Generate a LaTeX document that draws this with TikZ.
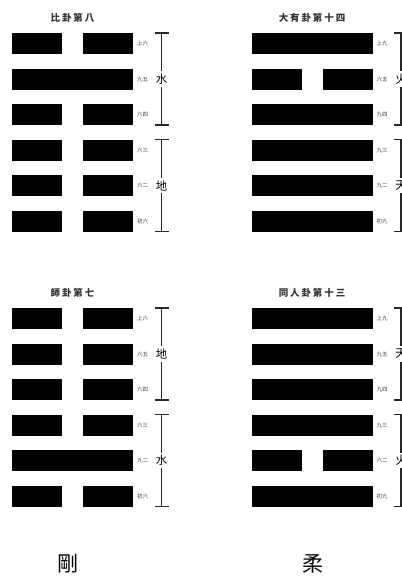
\documentclass[tikz,border=0pt]{standalone}
\usepackage{fontspec}
\newfontfamily\cjk{Noto Sans CJK TC}
\newfontfamily\cjkt[LetterSpace=20]{Noto Sans CJK TC}
\tikzset{
  bar/.style={fill=black},
  titlelab/.style={font=\cjkt\bfseries\fontsize{9.5}{10}\selectfont, inner sep=0pt, text=black!80},
  linelab/.style={font=\cjk\fontsize{5.5}{5.5}\selectfont, inner sep=0pt, text=black!75, anchor=west},
  trilab/.style={font=\cjk\fontsize{11.5}{12}\selectfont, inner sep=2.5pt},
  brk/.style={line width=1.2pt, black!85},
  biglab/.style={font=\cjk\fontsize{21}{22}\selectfont, inner sep=0pt}
}
% #1 name, #2 x0, #3 y0, #4 title, #5 list type/label, #6 upper, #7 lower
\newcommand\myhexagram[7]{%
  \node[titlelab] (#1-title) at (#2+60.5,#3-15) {#4};
  \foreach \t/\l [count=\i from 0] in {#5} {
    \pgfmathsetmacro\yy{#3+\i*35.5}
    \ifnum\t=1
      \fill[bar] (#2,\yy) rectangle ++(121,21);
    \else
      \fill[bar] (#2,\yy) rectangle ++(50,21);
      \fill[bar] (#2+71,\yy) rectangle ++(50,21);
    \fi
    \node[linelab] (#1-l\i) at (#2+125,\yy+10.5) {\l};
  }
  \node[trilab] (#1-up) at (#2+149.5,#3+46) {#6};
  \coordinate (#1-ut) at (#2+149.5,#3);
  \coordinate (#1-ub) at (#2+149.5,#3+92);
  \draw[brk] ([xshift=-7pt]#1-ut) -- ([xshift=7pt]#1-ut);
  \draw[brk] (#1-ut) -- (#1-up.north);
  \draw[brk] (#1-up.south) -- (#1-ub);
  \draw[brk] ([xshift=-7pt]#1-ub) -- ([xshift=7pt]#1-ub);
  \node[trilab] (#1-lo) at (#2+149.5,#3+152.5) {#7};
  \coordinate (#1-lt) at (#2+149.5,#3+106.5);
  \coordinate (#1-lb) at (#2+149.5,#3+198.5);
  \draw[brk] ([xshift=-7pt]#1-lt) -- ([xshift=7pt]#1-lt);
  \draw[brk] (#1-lt) -- (#1-lo.north);
  \draw[brk] (#1-lo.south) -- (#1-lb);
  \draw[brk] ([xshift=-7pt]#1-lb) -- ([xshift=7pt]#1-lb);
}
\begin{document}
\begin{tikzpicture}[x=1pt,y=-1pt]
\useasboundingbox (0,0) rectangle (402,579);
\myhexagram{bi}{12}{33}{比卦第八}{0/上六,1/九五,0/六四,0/六三,0/六二,0/初六}{水}{地}
\myhexagram{dy}{251.5}{33}{大有卦第十四}{1/上九,0/六五,1/九四,1/九三,1/九二,1/初九}{火}{天}
\myhexagram{shi}{12}{308}{師卦第七}{0/上六,0/六五,0/六四,0/六三,1/九二,0/初六}{地}{水}
\myhexagram{tr}{251.5}{308}{同人卦第十三}{1/上九,1/九五,1/九四,1/九三,0/六二,1/初九}{天}{火}
\node[biglab] (gang) at (68,564) {剛};
\node[biglab] (rou) at (313,564) {柔};
\end{tikzpicture}
\end{document}
